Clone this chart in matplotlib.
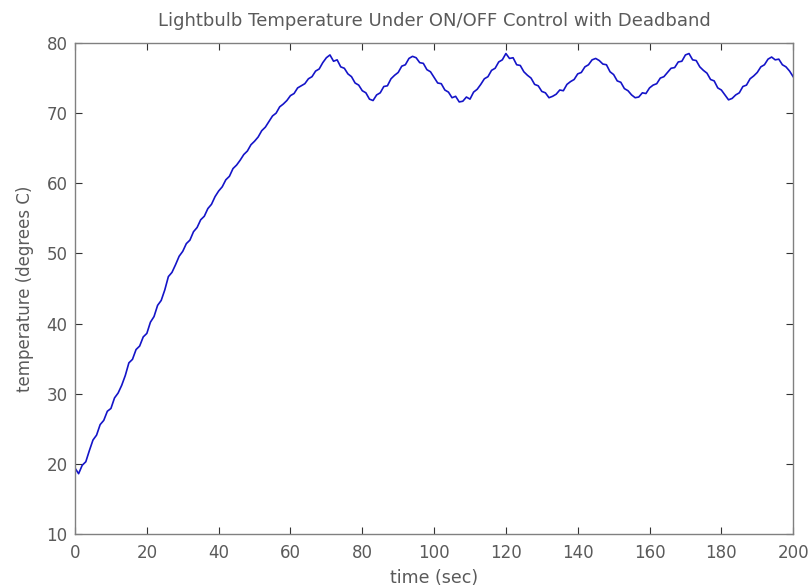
import matplotlib
matplotlib.use('Agg')
import matplotlib.pyplot as plt

# lightbulb temperature samples, one per second
time_sec = list(range(0, 201))
temp_c = [
    19.4, 18.6, 19.8, 20.3, 21.9, 23.4, 24.1, 25.6, 26.2, 27.5,
    27.9, 29.4, 30.1, 31.2, 32.6, 34.4, 34.9, 36.3, 36.8, 38.1,
    38.6, 40.2, 41.0, 42.6, 43.3, 44.8, 46.7, 47.3, 48.4, 49.6,
    50.3, 51.4, 51.9, 53.1, 53.7, 54.8, 55.3, 56.4, 57.0, 58.1,
    58.9, 59.5, 60.5, 61.0, 62.1, 62.6, 63.3, 64.1, 64.6, 65.5,
    66.0, 66.6, 67.5, 68.0, 68.8, 69.6, 70.0, 70.9, 71.3, 71.8,
    72.5, 72.8, 73.6, 73.9, 74.2, 74.9, 75.2, 76.0, 76.3, 77.2,
    77.9, 78.3, 77.4, 77.6, 76.6, 76.4, 75.6, 75.2, 74.3, 74.0,
    73.2, 72.9, 72.0, 71.8, 72.6, 72.9, 73.8, 73.9, 74.9, 75.4,
    75.8, 76.7, 76.9, 77.8, 78.1, 77.9, 77.2, 77.1, 76.2, 75.9,
    75.1, 74.3, 74.2, 73.3, 73.0, 72.2, 72.4, 71.6, 71.7, 72.3,
    72.0, 73.0, 73.4, 74.1, 74.9, 75.2, 76.1, 76.4, 77.3, 77.6,
    78.5, 77.8, 77.9, 76.9, 76.8, 75.9, 75.4, 75.0, 74.1, 73.9,
    73.1, 72.9, 72.2, 72.4, 72.7, 73.3, 73.2, 74.1, 74.5, 74.8,
    75.6, 75.8, 76.6, 76.9, 77.6, 77.8, 77.5, 77.0, 76.9, 75.9,
    75.5, 74.6, 74.4, 73.5, 73.2, 72.6, 72.2, 72.3, 72.9, 72.8,
    73.6, 74.0, 74.2, 75.0, 75.2, 75.8, 76.4, 76.5, 77.3, 77.4,
    78.3, 78.5, 77.6, 77.5, 76.6, 76.1, 75.7, 74.8, 74.6, 73.6,
    73.3, 72.6, 71.9, 72.1, 72.6, 72.9, 73.8, 74.0, 74.9, 75.3,
    75.8, 76.6, 76.9, 77.7, 78.0, 77.6, 77.7, 76.9, 76.6, 76.0,
    75.2,
]

x_ticks = [0, 20, 40, 60, 80, 100, 120, 140, 160, 180, 200]
y_ticks = [10, 20, 30, 40, 50, 60, 70, 80]

plt.rcParams['font.family'] = ['DejaVu Sans']
text_col = '#5a5a5a'

fig = plt.figure(figsize=(8.11, 5.86), dpi=100)
ax = fig.add_axes([0.0925, 0.0887, 0.8855, 0.8379])

ax.plot(time_sec, temp_c, color='#1414c8', linewidth=1.2)

ax.set_xlim(0, 200)
ax.set_ylim(10, 80)
ax.set_xticks(x_ticks)
ax.set_yticks(y_ticks)
ax.tick_params(direction='in', top=True, right=True, length=5,
               labelsize=12, colors='#333333', labelcolor=text_col)
ax.tick_params(axis='x', pad=7.5)
ax.tick_params(axis='y', pad=5.5)
for s in ax.spines.values():
    s.set_color('#808080')
    s.set_linewidth(1.0)

ax.set_title('Lightbulb Temperature Under ON/OFF Control with Deadband',
             fontsize=13, color=text_col, pad=12)
ax.set_xlabel('time (sec)', fontsize=12.5, color=text_col, labelpad=5)
ax.set_ylabel('temperature (degrees C)', fontsize=12, color=text_col, labelpad=9)

plt.savefig('out.png', dpi=100)
